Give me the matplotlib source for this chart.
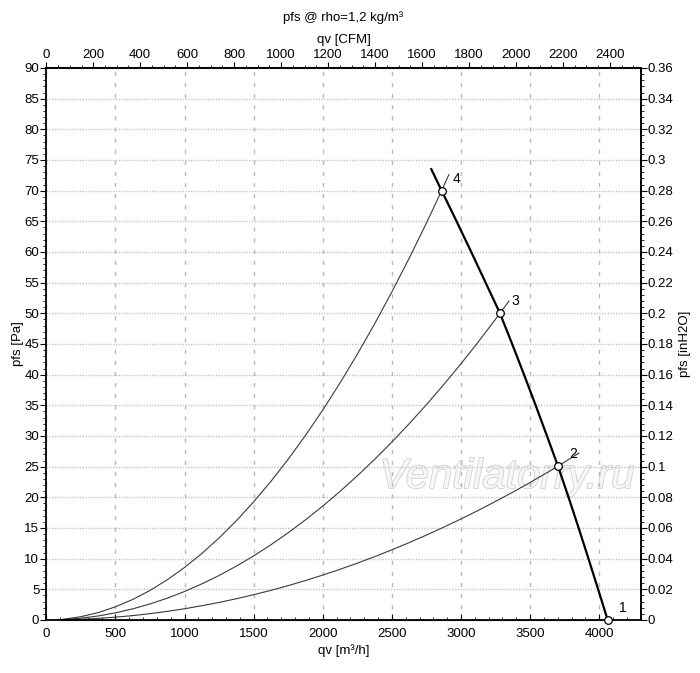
import matplotlib
matplotlib.use("Agg")
import matplotlib.pyplot as plt
from matplotlib.ticker import MultipleLocator, FixedLocator, FuncFormatter
import matplotlib.patheffects as pe

plt.rcParams['font.family'] = ['Liberation Sans', 'DejaVu Sans']

# ---- data ----
# fan curve: pressure [Pa] vs flow [m3/h]
fan_q = [2785, 2860, 2968, 3074, 3178, 3282, 3370, 3456, 3540, 3622, 3703, 3778, 3851, 3922, 3992, 4061]
fan_p = [73.5, 70, 65, 60, 55, 50, 45, 40, 35, 30, 25, 20, 15, 10, 5, 0]

# system curves (flow [m3/h], pressure [Pa])
sys_q4 = [100, 125, 250, 375, 500, 625, 750, 875, 1000, 1125, 1250, 1375, 1500, 1625, 1750, 1875,
          2000, 2125, 2250, 2375, 2500, 2625, 2750, 2860, 2912]
sys_p4 = [0.0, 0.13, 0.53, 1.20, 2.14, 3.34, 4.81, 6.55, 8.56, 10.83, 13.37, 16.18, 19.26, 22.60, 26.21, 30.09,
          34.23, 38.65, 43.33, 48.27, 53.49, 58.97, 64.72, 70.0, 72.6]
sys_q3 = [100, 125, 250, 375, 500, 625, 750, 875, 1000, 1125, 1250, 1375, 1500, 1625, 1750, 1875,
          2000, 2125, 2250, 2375, 2500, 2625, 2750, 2875, 3000, 3125, 3282, 3347]
sys_p3 = [0.0, 0.07, 0.29, 0.65, 1.16, 1.81, 2.61, 3.55, 4.64, 5.88, 7.25, 8.78, 10.44, 12.26, 14.22, 16.32,
          18.57, 20.96, 23.50, 26.18, 29.01, 31.99, 35.11, 38.37, 41.78, 45.33, 50.0, 52.0]
sys_q2 = [100, 125, 250, 375, 500, 625, 750, 875, 1000, 1125, 1250, 1375, 1500, 1625, 1750, 1875,
          2000, 2125, 2250, 2375, 2500, 2625, 2750, 2875, 3000, 3125, 3250, 3375, 3500, 3625, 3703, 3853]
sys_p2 = [0.0, 0.03, 0.11, 0.26, 0.46, 0.71, 1.03, 1.40, 1.83, 2.32, 2.86, 3.46, 4.12, 4.83, 5.60, 6.43,
          7.32, 8.26, 9.26, 10.32, 11.44, 12.61, 13.84, 15.13, 16.47, 17.87, 19.33, 20.84, 22.42, 24.05, 25.1, 27.2]
sys_q1 = [100, 4100]
sys_p1 = [0, 0]

# operating points
op_labels = ['1', '2', '3', '4']
op_q = [4061, 3703, 3282, 2860]
op_p = [0, 25.1, 50, 70]

top_ticks = [0, 200, 400, 600, 800, 1000, 1200, 1400, 1600, 1800, 2000, 2200, 2400]
right_ticks = [0, 0.02, 0.04, 0.06, 0.08, 0.1, 0.12, 0.14, 0.16, 0.18, 0.2, 0.22, 0.24,
               0.26, 0.28, 0.3, 0.32, 0.34, 0.36]

title = "pfs @ rho=1,2 kg/m³"
xlabel = "qv [m³/h]"
xlabel_top = "qv [CFM]"
ylabel = "pfs [Pa]"
ylabel_right = "pfs [inH2O]"
watermark = "Ventilatorry.ru"

M3H_PER_CFM = 1.699
PA_PER_INH2O = 250.0

fig = plt.figure(figsize=(7.0, 6.73), dpi=100)
ax = fig.add_axes([0.0661, 0.0788, 0.8492, 0.8202])

ax.set_xlim(0, 4300)
ax.set_ylim(0, 90)

# grid
ax.xaxis.set_major_locator(MultipleLocator(500))
ax.yaxis.set_major_locator(MultipleLocator(5))
ax.xaxis.set_minor_locator(MultipleLocator(100))
ax.yaxis.set_minor_locator(MultipleLocator(1))
ax.grid(axis='x', which='major', color='#b8b8b8', linestyle=(0, (3, 5)), linewidth=1.0, zorder=0)
ax.grid(axis='y', which='major', color='#c4c4c4', linestyle=(0, (1, 1)), linewidth=1.0, zorder=0)

# watermark
ax.text(0.775, 0.259, watermark, transform=ax.transAxes, ha='center', va='center',
        fontsize=30, style='italic', color='#f7f7f7', zorder=0.5,
        path_effects=[pe.withStroke(linewidth=1.2, foreground='#d0d0d0')])

# system curves
for q, p in [(sys_q1, sys_p1), (sys_q2, sys_p2), (sys_q3, sys_p3), (sys_q4, sys_p4)]:
    ax.plot(q, p, color='#3a3a3a', linewidth=0.8, zorder=2, clip_on=False)

# fan curve
ax.plot(fan_q, fan_p, color='black', linewidth=1.6, zorder=3, clip_on=False)

# operating points
ax.plot(op_q, op_p, linestyle='none', marker='o', markersize=5.5, markerfacecolor='white',
        markeredgecolor='black', markeredgewidth=0.9, zorder=4, clip_on=False)
for lab, q, p in zip(op_labels, op_q, op_p):
    ax.annotate(lab, (q, p), xytext=(8, 3.5), textcoords='offset points', fontsize=10,
                ha='left', va='bottom', color='black', zorder=5)

# spines / ticks
for s in ax.spines.values():
    s.set_linewidth(1.3)
    s.set_color('black')

ax.tick_params(axis='x', which='major', direction='in', length=4, width=0.8, labelsize=9.5, pad=6)
ax.tick_params(axis='x', which='minor', direction='in', length=2.5, width=0.6)
ax.tick_params(axis='y', which='major', direction='out', length=4, width=0.8, labelsize=9.5, pad=1)
ax.tick_params(axis='y', which='minor', direction='out', length=2.5, width=0.6)
ax.set_xlabel(xlabel, fontsize=9.5, labelpad=3)
ax.set_ylabel(ylabel, fontsize=9.5, labelpad=0)

# top axis (CFM)
top = ax.secondary_xaxis('top', functions=(lambda q: q / M3H_PER_CFM, lambda c: c * M3H_PER_CFM))
top.xaxis.set_major_locator(FixedLocator(top_ticks))
top.xaxis.set_minor_locator(MultipleLocator(50))
top.tick_params(axis='x', which='major', direction='out', length=4, width=0.8, labelsize=9.5, pad=1)
top.tick_params(axis='x', which='minor', direction='out', length=2.5, width=0.6)
top.set_xlabel(xlabel_top, fontsize=9.5, labelpad=4)
top.spines['top'].set_linewidth(1.3)

# right axis (inH2O)
right = ax.secondary_yaxis('right', functions=(lambda p: p / PA_PER_INH2O, lambda h: h * PA_PER_INH2O))
right.yaxis.set_major_locator(FixedLocator(right_ticks))
right.yaxis.set_minor_locator(MultipleLocator(0.004))
right.yaxis.set_major_formatter(FuncFormatter(lambda v, pos: ('%.2f' % v).rstrip('0').rstrip('.') if abs(v) > 1e-9 else '0'))
right.tick_params(axis='y', which='major', direction='out', length=4, width=0.8, labelsize=9.5, pad=1)
right.tick_params(axis='y', which='minor', direction='out', length=2.5, width=0.6)
right.set_ylabel(ylabel_right, fontsize=9.5, labelpad=4)
right.spines['right'].set_linewidth(1.3)

fig.text(0.49, 1 - 18 / 673, title, ha='center', va='center', fontsize=9.5)

fig.savefig("out.png", dpi=100)
